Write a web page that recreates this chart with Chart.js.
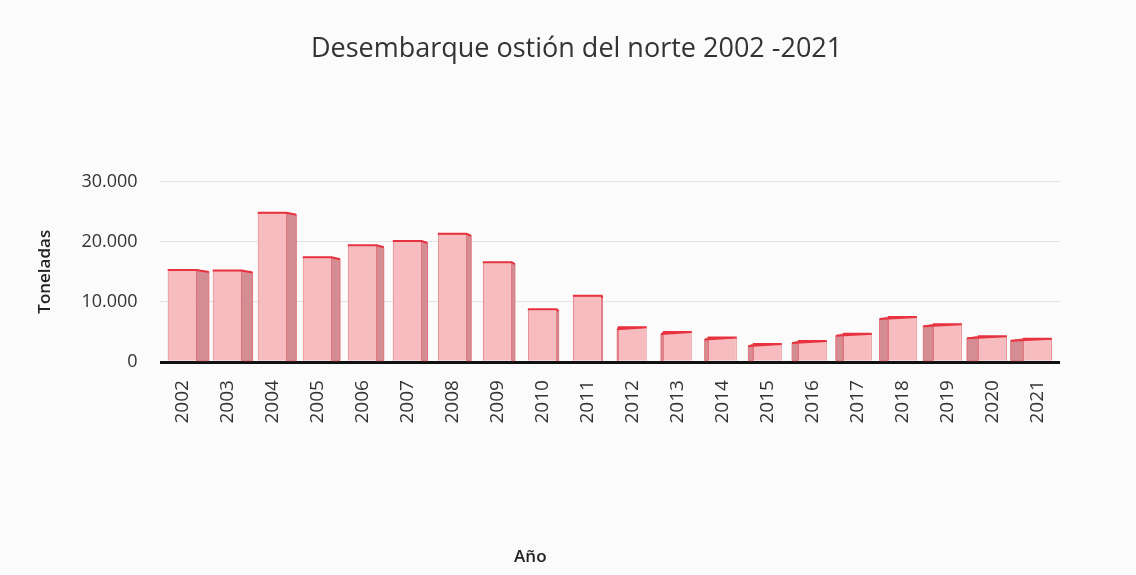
<!DOCTYPE html>
<html>
<head>
<meta charset="utf-8">
<script src="https://cdn.jsdelivr.net/npm/chart.js@4.4.1/dist/chart.umd.min.js"></script>
<style>
  html, body { margin: 0; padding: 0; background: #fbfbfb; }
  #wrap { width: 1136px; height: 575px; }
</style>
</head>
<body>
<div id="wrap"><canvas id="ostionChart" width="1136" height="575"></canvas></div>
<script>
// Datos (toneladas)
const years = ['2002', '2003', '2004', '2005', '2006', '2007', '2008', '2009', '2010', '2011',
               '2012', '2013', '2014', '2015', '2016', '2017', '2018', '2019', '2020', '2021'];
const landings = [15300, 15200, 24800, 17400, 19400, 20100, 21300, 16600, 8800, 11000,
                  5800, 5000, 4100, 3000, 3500, 4700, 7500, 6300, 4300, 3900];
const yTicks = [0, 10000, 20000, 30000];

// Cara lateral "3D" de cada barra, en perspectiva desde el centro
const sideFaces = {
    id: 'sideFaces',
    afterDatasetsDraw(chart) {
        const c = chart.ctx;
        const area = chart.chartArea;
        const mid = (area.left + area.right) / 2;
        const half = (area.right - area.left) / 2;
        chart.getDatasetMeta(0).data.forEach(bar => {
            const w = bar.width;
            const d = -13 * (bar.x - mid) / half;
            const edge = d >= 0 ? bar.x + w / 2 : bar.x - w / 2;
            c.save();
            c.beginPath();
            c.moveTo(edge, bar.y);
            c.lineTo(edge + d, bar.y + 2);
            c.lineTo(edge + d, bar.base);
            c.lineTo(edge, bar.base);
            c.closePath();
            c.fillStyle = '#d48e93';
            c.fill();
            c.strokeStyle = '#e0737a';
            c.lineWidth = 1;
            c.stroke();
            // borde superior rojo
            c.beginPath();
            c.moveTo(bar.x - w / 2, bar.y);
            c.lineTo(bar.x + w / 2, bar.y);
            c.lineTo(edge + d, bar.y + 2);
            c.strokeStyle = '#e8323f';
            c.lineWidth = 2;
            c.stroke();
            c.restore();
        });
    }
};

const ctx = document.getElementById('ostionChart').getContext('2d');
new Chart(ctx, {
    type: 'bar',
    data: {
        labels: years,
        datasets: [{
            data: landings,
            backgroundColor: '#f6bcc0',
            borderColor: '#e5747b',
            borderWidth: 1,
            categoryPercentage: 1.0,
            barPercentage: 0.64
        }]
    },
    options: {
        responsive: false,
        animation: false,
        layout: { padding: { left: 30, right: 76, top: 0, bottom: 8 } },
        plugins: {
            legend: { display: false },
            tooltip: { enabled: false },
            title: {
                display: true,
                // espacios iniciales para centrar el titulo como en el original
                text: '\u00A0'.repeat(9) + 'Desembarque ostión del norte 2002 -2021',
                color: '#333',
                font: { family: 'Open Sans', size: 27, weight: 'normal' },
                padding: { top: 33, bottom: 116 }
            }
        },
        scales: {
            x: {
                grid: { display: false },
                border: { display: false },
                ticks: {
                    color: '#333',
                    font: { family: 'Open Sans', size: 19 },
                    minRotation: 90,
                    maxRotation: 90,
                    padding: 10
                },
                title: {
                    display: true,
                    // espacios finales para desplazar el titulo hacia la izquierda como en el original
                    text: 'Año' + '\u00A0'.repeat(36),
                    color: '#222',
                    font: { family: 'Open Sans', size: 17, weight: '600' },
                    padding: { top: 113, bottom: 0 }
                }
            },
            y: {
                min: 0,
                max: 30000,
                afterBuildTicks: axis => { axis.ticks = yTicks.map(v => ({ value: v })); },
                grid: {
                    color: c => c.tick && c.tick.value === 0 ? '#111' : '#e2e2e2',
                    lineWidth: c => c.tick && c.tick.value === 0 ? 3 : 1,
                    drawTicks: false
                },
                border: { display: false },
                ticks: {
                    color: '#333',
                    font: { family: 'Open Sans', size: 18 },
                    padding: 22,
                    callback: v => v.toLocaleString('de-DE')
                },
                title: {
                    display: true,
                    text: 'Toneladas',
                    color: '#222',
                    font: { family: 'Open Sans', size: 17, weight: '600' },
                    padding: { top: 5, bottom: 4 }
                }
            }
        }
    },
    plugins: [sideFaces]
});
</script>
</body>
</html>
